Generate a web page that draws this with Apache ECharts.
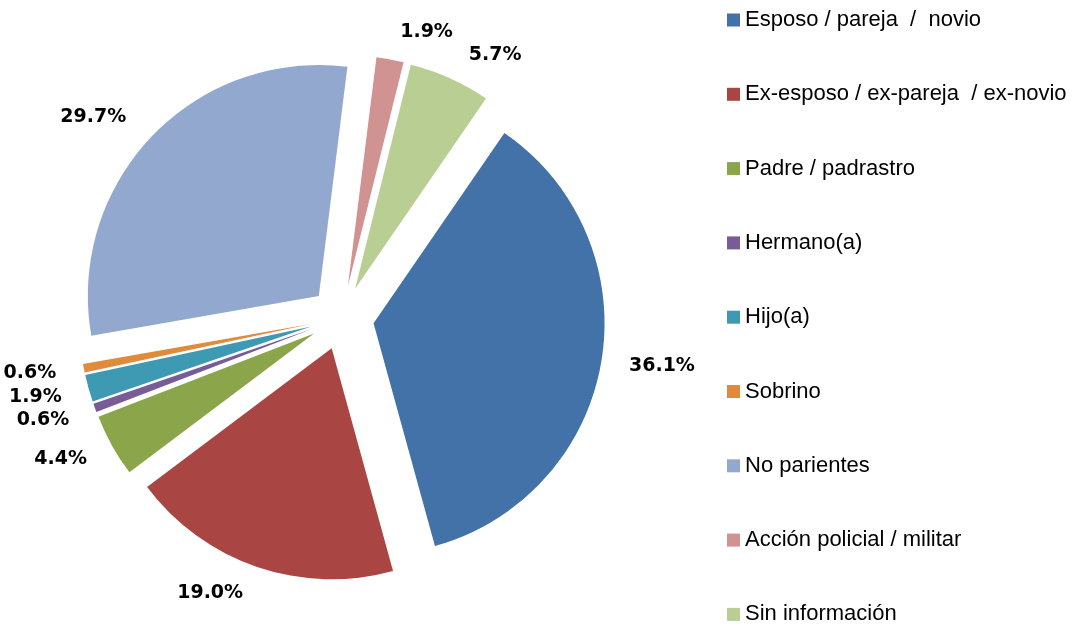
<!DOCTYPE html>
<html>
<head>
<meta charset="utf-8">
<script src="https://cdn.jsdelivr.net/npm/echarts@6/dist/echarts.min.js"></script>
<style>
  html, body { margin: 0; padding: 0; background: #fff; }
  #chart { width: 1073px; height: 628px; }
</style>
</head>
<body>
<div id="chart"></div>
<script>
const categories = [
  'Esposo / pareja  /  novio',
  'Ex-esposo / ex-pareja  / ex-novio',
  'Padre / padrastro',
  'Hermano(a)',
  'Hijo(a)',
  'Sobrino',
  'No parientes',
  'Acción policial / militar',
  'Sin información'
]
const values = [36.1, 19.0, 4.4, 0.6, 1.9, 0.6, 29.7, 1.9, 5.7]
const colors = ['#4372a9', '#a94542', '#8ba54a', '#775c97', '#3e9ab3', '#e08a3c', '#93a8cf', '#d09391', '#b9ce93']

const chart = echarts.init(document.getElementById('chart'))

chart.setOption({
  backgroundColor: '#fff',
  animation: false,
  color: colors,
  legend: {
    orient: 'vertical',
    left: 727,
    top: 9,
    height: 619,
    padding: 0,
    itemWidth: 13,
    itemHeight: 13,
    itemGap: 52.3,
    icon: 'rect',
    selectedMode: false,
    textStyle: {
      fontFamily: 'Liberation Sans',
      fontSize: 22,
      color: '#000'
    },
    data: categories
  },
  series: [{
    type: 'pie',
    center: [342, 318],
    radius: ['0%', 231],
    startAngle: 55.5,
    clockwise: true,
    selectedMode: 'multiple',
    selectedOffset: 32,
    avoidLabelOverlap: true,
    label: {
      position: 'outside',
      formatter: p => p.value.toFixed(1) + '%',
      fontFamily: 'DejaVu Sans',
      fontWeight: 'bold',
      fontSize: 19,
      color: '#000'
    },
    labelLine: { show: false, length: 28, length2: 0 },
    emphasis: { disabled: true },
    data: categories.map((name, i) => ({ name, value: values[i], selected: true }))
  }]
})
</script>
</body>
</html>
